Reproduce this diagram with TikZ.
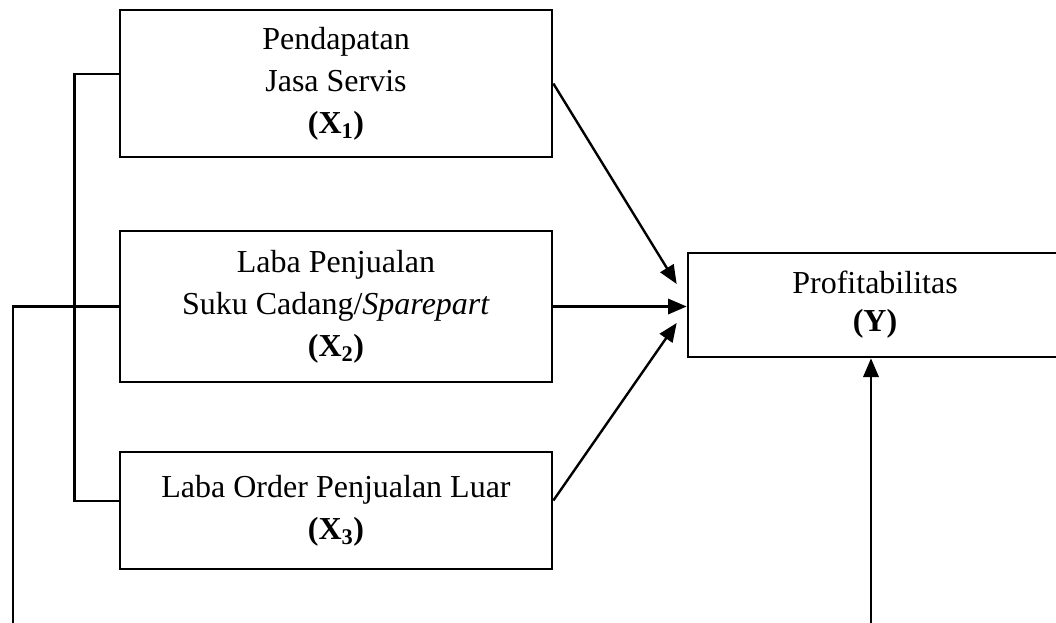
\documentclass[tikz,border=0pt]{standalone}
\usepackage{fontspec}
\setmainfont{Liberation Serif}
\usepackage{tikz}
\usetikzlibrary{positioning}
\usetikzlibrary{arrows.meta}

\tikzset{
    varbox/.style={draw, line width=2pt, minimum width=324pt, inner sep=0pt,
        align=center, font=\fontsize{24}{31.5}\selectfont},
    arr/.style={line width=1.8pt, -{Triangle[length=14pt,width=11.5pt]}},
    link/.style={line width=1.8pt}
}

\begin{document}
\begin{tikzpicture}[x=0.75pt,y=-0.75pt]
        \useasboundingbox (0,0) rectangle (1056,622);
        \clip (0,0) rectangle (1056,622);

        \node[varbox, minimum height=110.25pt] (X1) at (336,83.5)
        {Pendapatan\\Jasa Servis\\\textbf{(X\textsubscript{1})}};
        \node[varbox, minimum height=113.25pt] (X2) at (336,306.5)
        {Laba Penjualan\\Suku Cadang/\textit{Sparepart}\\\textbf{(X\textsubscript{2})}};
        \node[varbox, minimum height=87.75pt] (X3) at (336,510.5)
        {Laba Order Penjualan Luar\\\textbf{(X\textsubscript{3})}};
        \node[varbox, minimum width=280.5pt, minimum height=78pt,
        font=\fontsize{24}{28.5}\selectfont] (Y) at (875,305)
        {Profitabilitas\\\textbf{(Y)}};

        % arrows into Y
        \draw[arr] (X1.east) -- ([xshift=-7.5pt,yshift=15.75pt]Y.west);
        \draw[arr] (X2.east) -- (X2.east -| Y.west);
        \draw[arr] ([yshift=7.5pt]X3.east) -- ([xshift=-7.5pt,yshift=-13.5pt]Y.west);

        % bracket on the left
        \coordinate (j1) at ([yshift=7pt]X1.west);
        \coordinate (j3) at ([yshift=7pt]X3.west);
        \draw[link] (j1) -- ++(-44,0) coordinate (b1) -- (b1 |- j3) -- (j3);

        % outer loop
        \coordinate (low) at (13,650);
        \draw[arr] (X2.west) -- (X2.west -| low) -- (low) -| ([xshift=-3pt]Y.south);
    \end{tikzpicture}
\end{document}
